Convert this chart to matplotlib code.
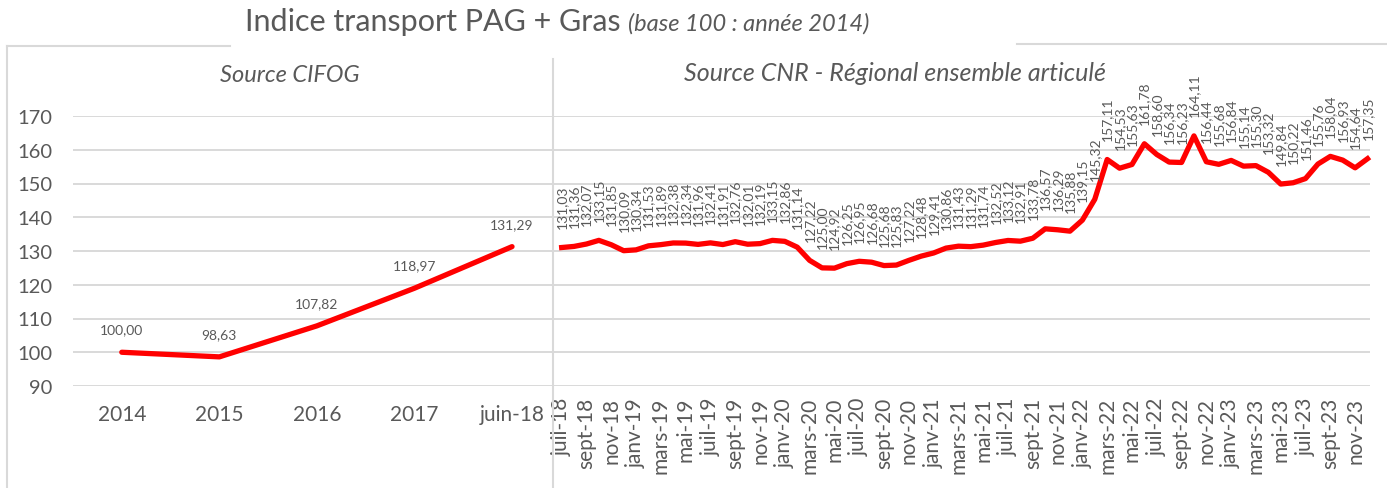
import matplotlib
matplotlib.use("Agg")
import matplotlib.pyplot as plt
from matplotlib.lines import Line2D

plt.rcParams['font.family'] = ['Lato', 'DejaVu Sans']

# left part (source CIFOG)
annees = ['2014', '2015', '2016', '2017', 'juin-18']
indice_cifog = [100.00, 98.63, 107.82, 118.97, 131.29]

# right part (source CNR), monthly juil-18 -> déc-23
mois_fr = ['janv', 'févr', 'mars', 'avr', 'mai', 'juin',
           'juil', 'août', 'sept', 'oct', 'nov', 'déc']
indice_cnr = [131.03, 131.36, 132.07, 133.15, 131.85, 130.09,
              130.34, 131.53, 131.89, 132.38, 132.34, 131.96, 132.41, 131.91, 132.76, 132.01, 132.19, 133.15,
              132.86, 131.14, 127.22, 125.00, 124.92, 126.25, 126.95, 126.68, 125.68, 125.83, 127.22, 128.48,
              129.41, 130.86, 131.43, 131.29, 131.74, 132.52, 133.12, 132.91, 133.78, 136.57, 136.29, 135.88,
              139.15, 145.32, 157.11, 154.53, 155.63, 161.78, 158.60, 156.34, 156.23, 164.11, 156.44, 155.68,
              156.84, 155.14, 155.30, 153.32, 149.84, 150.22, 151.46, 155.76, 158.04, 156.93, 154.64, 157.35]
mois_labels = []
for an in range(18, 24):
    for m in mois_fr:
        mois_labels.append(f"{m}-{an}")
mois_labels = mois_labels[6:]  # starts in juillet 2018

TXT = '#595959'
GRID = '#d9d9d9'
RED = '#ff0000'
W, H = 1387, 489

def fmt(v):
    return f"{v:.2f}".replace('.', ',')

fig = plt.figure(figsize=(W / 100, H / 100), dpi=100)
y0 = 1 - 387 / H
hgt = (387 - 117) / H
ax1 = fig.add_axes([73 / W, y0, (553 - 73) / W, hgt])
ax2 = fig.add_axes([553 / W, y0, (1370 - 553) / W, hgt])

for ax in (ax1, ax2):
    ax.set_ylim(90, 170)
    ax.set_yticks(range(90, 171, 10))
    ax.yaxis.grid(True, color=GRID, linewidth=1.4)
    ax.set_axisbelow(True)
    for s in ax.spines.values():
        s.set_visible(False)
    ax.tick_params(length=0, colors=TXT)

# left chart
x1 = list(range(len(annees)))
ax1.plot(x1, indice_cifog, color=RED, linewidth=3.8, solid_capstyle='round', clip_on=False)
ax1.set_xlim(-0.5, 4.42)
ax1.set_xticks(x1)
ax1.set_xticklabels(annees, fontsize=15, color=TXT)
ax1.tick_params(axis='x', pad=13)
ax1.tick_params(axis='y', labelsize=14.5, pad=15)
for x, v in zip(x1, indice_cifog):
    ax1.annotate(fmt(v), (x, v), xytext=(0, 12), textcoords='offset points',
                 ha='center', va='bottom', fontsize=10, color=TXT)

# right chart
x2 = list(range(len(indice_cnr)))
ax2.plot(x2, indice_cnr, color=RED, linewidth=3.8, solid_joinstyle='round', clip_on=False)
ax2.set_xlim(-0.7, 65.2)
ax2.set_xticks(x2[::2])
ax2.set_xticklabels(mois_labels[::2], rotation=90, fontsize=15, color=TXT, va='top')
ax2.tick_params(axis='x', pad=8)
ax2.set_yticklabels([])
for x, v in zip(x2, indice_cnr):
    ax2.annotate(fmt(v), (x, v), xytext=(0, 14), textcoords='offset points',
                 ha='center', va='bottom', rotation=90, fontsize=10, color=TXT)

# frame lines
fig.add_artist(Line2D([7 / W, 7 / W], [0, 1 - 47 / H], color=GRID, lw=1.5))
fig.add_artist(Line2D([7 / W, 230 / W], [1 - 47 / H, 1 - 47 / H], color=GRID, lw=1.5))
fig.add_artist(Line2D([1017 / W, 1], [1 - 45 / H, 1 - 45 / H], color=GRID, lw=1.5))
fig.add_artist(Line2D([553 / W, 553 / W], [0, 1 - 60 / H], color=GRID, lw=1.5))

# titles
fig.text(245 / W, 1 - 22 / H, "Indice transport PAG + Gras", fontsize=22, color=TXT,
         ha='left', va='center')
fig.text(628 / W, 1 - 24 / H, "(base 100 : année 2014)", fontsize=17, color=TXT,
         ha='left', va='center', style='italic')
fig.text(290 / W, 1 - 76 / H, "Source CIFOG", fontsize=17, color=TXT,
         ha='center', va='center', style='italic')
fig.text(895 / W, 1 - 74 / H, "Source CNR - Régional ensemble articulé", fontsize=18, color=TXT,
         ha='center', va='center', style='italic')

fig.savefig("out.png", dpi=100)
